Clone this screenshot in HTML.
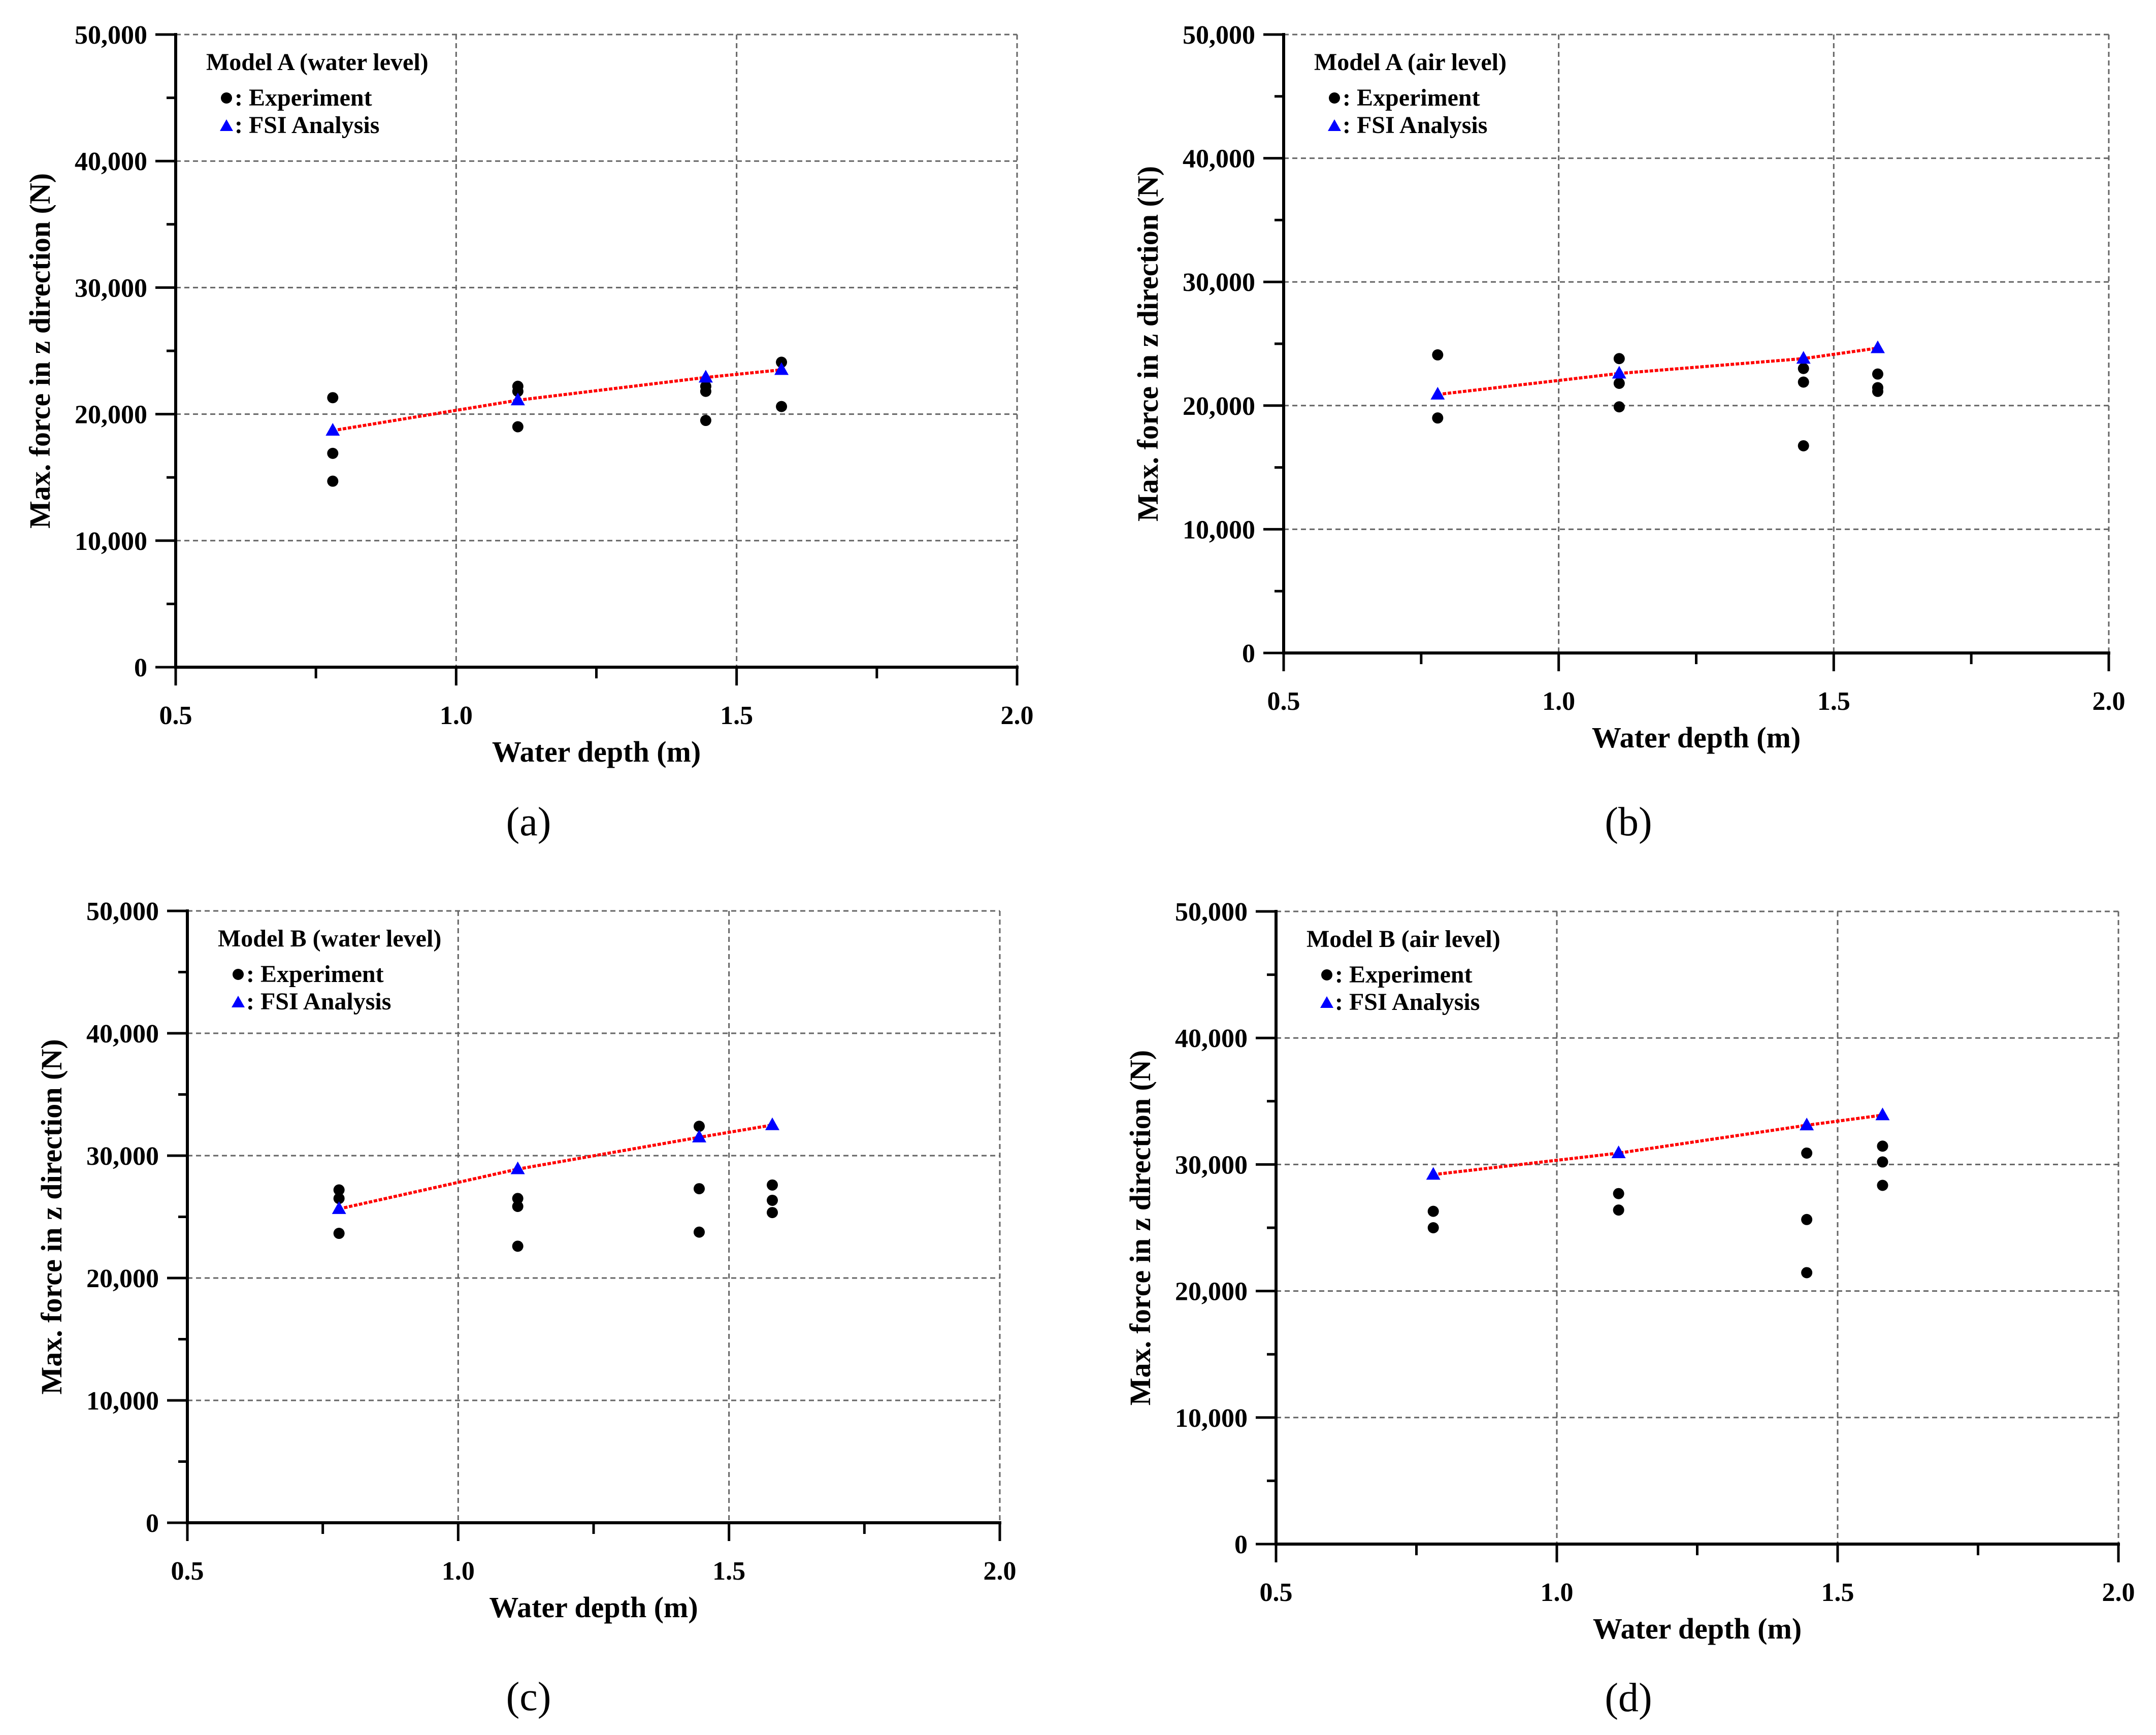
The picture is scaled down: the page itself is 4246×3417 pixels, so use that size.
<!DOCTYPE html>
<html><head><meta charset="utf-8"><style>
html,body{margin:0;padding:0;background:#fff;}
svg{display:block;}
text{font-family:"Liberation Serif",serif;}
</style></head>
<body>
<svg id="fig" xmlns="http://www.w3.org/2000/svg" width="4246" height="3417" viewBox="0 0 4246 3417"></svg>
<script>
const xTicks = [0.5, 1.0, 1.5, 2.0];
const xTickLabels = ["0.5", "1.0", "1.5", "2.0"];
const yTicks = [0, 10000, 20000, 30000, 40000, 50000];
const yTickLabels = ["0", "10,000", "20,000", "30,000", "40,000", "50,000"];
const depths = [0.78, 1.11, 1.445, 1.58];

const titlesPanels = ["Model A (water level)", "Model A (air level)", "Model B (water level)", "Model B (air level)"];
const panelLetters = ["(a)", "(b)", "(c)", "(d)"];

const expA = [[21300, 16900, 14700], [22200, 21800, 19000], [22200, 21800, 19500], [24100, 20600]];
const fsiA = [18700, 21100, 22900, 23500];
const expB = [[24100, 19000], [23800, 21800, 19900], [23000, 21900, 16750], [22550, 21450, 21150]];
const fsiB = [20900, 22600, 23800, 24650];
const expC = [[27200, 26500, 23650], [26500, 25850, 22600], [32400, 27300, 23750], [27600, 26350, 25350]];
const fsiC = [25650, 28900, 31500, 32500];
const expD = [[26300, 25000], [27700, 26400], [30900, 25650, 21450], [31450, 30200, 28350]];
const fsiD = [29200, 30900, 33100, 33900];

const panels = [
  {L:346, R:2003, T:68, B:1314, exp:expA, fsi:fsiA, lx:1041, ly:1645},
  {L:2528, R:4153, T:68, B:1286, exp:expB, fsi:fsiB, lx:3207, ly:1645},
  {L:369, R:1969, T:1794, B:2999, exp:expC, fsi:fsiC, lx:1041, ly:3368},
  {L:2513, R:4172, T:1795, B:3041, exp:expD, fsi:fsiD, lx:3207, ly:3370}
];

const NS = "http://www.w3.org/2000/svg";
const svg = document.getElementById("fig");
function mk(tag, attrs, parent) {
  const e = document.createElementNS(NS, tag);
  for (const k in attrs) e.setAttribute(k, attrs[k]);
  (parent || svg).appendChild(e);
  return e;
}

panels.forEach((p, i) => {
  const g = mk("g", {});
  
  
  const xs = v => p.L + (v - 0.5) / 1.5 * (p.R - p.L);
  const ys = v => p.B - v / 50000 * (p.B - p.T);

  yTicks.forEach(v => {
    if (v === 0) return;
    const l = mk("line", {x1:p.L, x2:p.R, y1:ys(v), y2:ys(v), stroke:"#666", "stroke-width":3, "stroke-dasharray":"10 7"}, g);
    
    
  });
  xTicks.forEach(v => {
    if (v === 0.5) return;
    const l = mk("line", {x1:xs(v), x2:xs(v), y1:p.T, y2:p.B, stroke:"#666", "stroke-width":3, "stroke-dasharray":"10 7"}, g);
    
    
  });

  const ya = mk("line", {x1:p.L, x2:p.L, y1:p.T-3, y2:p.B+3, stroke:"#000", "stroke-width":6}, g);
  
  
  const xa = mk("line", {x1:p.L-3, x2:p.R+3, y1:p.B, y2:p.B, stroke:"#000", "stroke-width":6}, g);
  
  

  for (let v = 0; v <= 50000; v += 5000) {
    const major = v % 10000 === 0;
    const t = mk("line", {x1:p.L - (major ? 40 : 18), x2:p.L, y1:ys(v), y2:ys(v), stroke:"#000", "stroke-width":5}, g);
    
    
  }
  yTicks.forEach((v, k) => {
    const t = mk("text", {x:p.L - 56, y:ys(v) + 18, "text-anchor":"end", "font-size":52, "font-weight":"bold"}, g);
    t.textContent = yTickLabels[k];
    
    
  });
  for (let v = 0.5; v <= 2.0001; v += 0.25) {
    const major = Math.abs(v * 2 - Math.round(v * 2)) < 1e-6;
    const t = mk("line", {x1:xs(v), x2:xs(v), y1:p.B, y2:p.B + (major ? 36 : 22), stroke:"#000", "stroke-width":5}, g);
    
    
  }
  xTicks.forEach((v, k) => {
    const t = mk("text", {x:xs(v), y:p.B + 112, "text-anchor":"middle", "font-size":52, "font-weight":"bold"}, g);
    t.textContent = xTickLabels[k];
    
    
  });

  const xt = mk("text", {x:(p.L + p.R) / 2, y:p.B + 186, "text-anchor":"middle", "font-size":58, "font-weight":"bold"}, g);
  xt.textContent = "Water depth (m)";
  
  
  const cy = (p.T + p.B) / 2, cx = p.L - 248;
  const yt = mk("text", {x:cx, y:cy, "text-anchor":"middle", "font-size":58, "font-weight":"bold", transform:"rotate(-90 " + cx + " " + cy + ")"}, g);
  yt.textContent = "Max. force in z direction (N)";
  
  

  const pts = p.fsi.map((v, k) => xs(depths[k]) + "," + ys(v)).join(" ");
  const fl = mk("polyline", {points:pts, fill:"none", stroke:"#f00", "stroke-width":6, "stroke-dasharray":"7 3"}, g);
  
  

  p.exp.forEach((arr, k) => {
    arr.forEach(v => {
      const c = mk("circle", {cx:xs(depths[k]), cy:ys(v), r:11, fill:"#000"}, g);
      
      
    });
  });
  p.fsi.forEach((v, k) => {
    const x = xs(depths[k]), y = ys(v);
    const tr = mk("polygon", {points:(x) + "," + (y - 15) + " " + (x - 14) + "," + (y + 10) + " " + (x + 14) + "," + (y + 10), fill:"#00f"}, g);
    
    
  });

  const lg = mk("g", {}, g);
  
  
  const lt = mk("text", {x:p.L + 60, y:p.T + 70, "font-size":48, "font-weight":"bold"}, lg);
  lt.textContent = titlesPanels[i];
  
  
  const ld = mk("circle", {cx:p.L + 100, cy:p.T + 125, r:11, fill:"#000"}, lg);
  
  
  const le = mk("text", {x:p.L + 116, y:p.T + 140, "font-size":48, "font-weight":"bold"}, lg);
  le.textContent = ": Experiment";
  
  
  const ltr = mk("polygon", {points:(p.L + 100) + "," + (p.T + 167) + " " + (p.L + 87) + "," + (p.T + 190) + " " + (p.L + 113) + "," + (p.T + 190), fill:"#00f"}, lg);
  
  
  const lf = mk("text", {x:p.L + 116, y:p.T + 194, "font-size":48, "font-weight":"bold"}, lg);
  lf.textContent = ": FSI Analysis";
  
  

  const pl = mk("text", {x:p.lx, y:p.ly, "text-anchor":"middle", "font-size":80}, g);
  pl.textContent = panelLetters[i];
  
  
});
</script>
</body></html>
